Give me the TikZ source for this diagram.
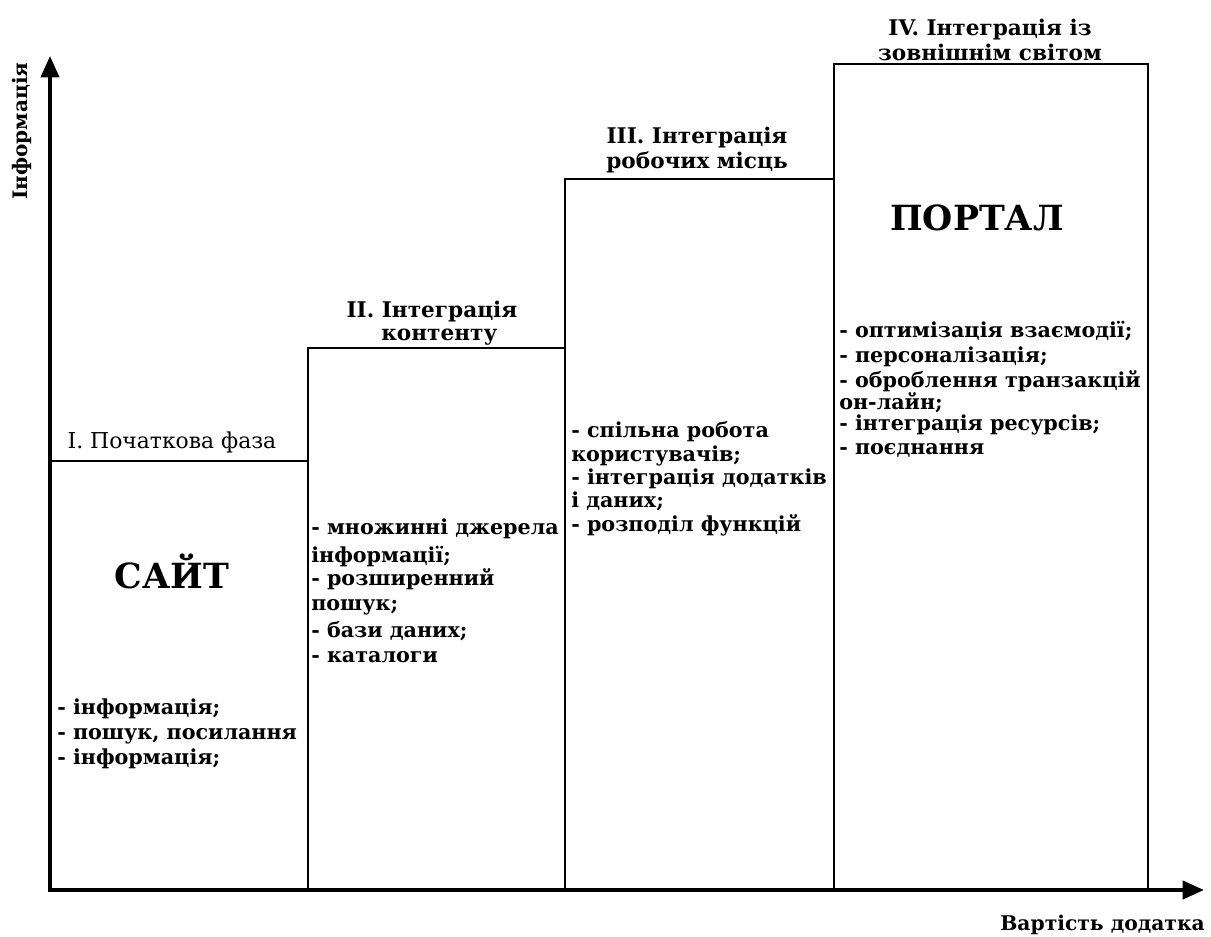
\documentclass[tikz,border=0pt]{standalone}
\usepackage{fontspec}
\setmainfont{DejaVu Serif}
\usetikzlibrary{arrows.meta}
\begin{document}
\begin{tikzpicture}[x=0.75pt,y=-0.75pt,
  stage/.style={draw=black, line width=1.1pt, inner sep=0pt, outer sep=0pt, anchor=south west},
  axis/.style={line width=3pt, {Triangle[length=16pt,width=13.5pt]}-{Triangle[length=16pt,width=13.5pt]}},
  lst/.style={font=\fontsize{15.5}{18}\selectfont\bfseries, align=left, anchor=base west, inner sep=0pt},
  ttl/.style={font=\fontsize{16.2}{18.75}\selectfont\bfseries, align=center, inner sep=0pt},
  big/.style={font=\fontsize{26}{30}\selectfont\bfseries, anchor=base, inner sep=0pt}]
\useasboundingbox (0,0) rectangle (1211,936);
\fill[white] (0,0) rectangle (1211,936);
% stages
\node[stage, minimum width=193.5pt, minimum height=321.75pt] (b1) at (50,890) {};
\node[stage, minimum width=192.75pt, minimum height=406.5pt] (b2) at (308,890) {};
\node[stage, minimum width=201.75pt, minimum height=533.25pt] (b3) at (565,890) {};
\node[stage, minimum width=235.5pt, minimum height=619.5pt] (b4) at (834,890) {};
% axes
\coordinate (O) at (50,890);
\coordinate (ytip) at (50,56);
\coordinate (xtip) at (1204,890);
\draw[axis] (ytip) -- (O) -- (xtip);
\node[font=\fontsize{15}{17}\selectfont\bfseries, rotate=90, inner sep=0pt] (ylab) at (22,131) {Інформація};
\node[font=\fontsize{15.2}{17}\selectfont\bfseries, anchor=base east, inner sep=0pt] (xlab) at (1205,930) {Вартість додатка};
% titles
\node[font=\fontsize{16.4}{18}\selectfont, inner sep=0pt] (t1) at (172,442) {I. Початкова фаза};
\node[ttl, font=\fontsize{16.2}{17.25}\selectfont\bfseries] (t2) at (432,323) {II. Інтеграція\\\hspace*{11pt}контенту};
\node[ttl] (t3) at (697,150.5) {III. Інтеграція\\робочих місць};
\node[ttl] (t4) at (990,39.5) {IV. Інтеграція із\\зовнішнім світом};
% big labels
\node[big] (site) at (172,588) {САЙТ};
\node[big] (portal) at (977,230) {ПОРТАЛ};
% lists (anchored at the baseline of their last line)
\node[lst, font=\fontsize{15.5}{18.75}\selectfont\bfseries] (l1) at (57,764) {- інформація;\\- пошук, посилання\\- інформація;};
\node[lst] (l2) at (311,662) {- множинні джерела\\[3pt]інформації;\\[-0.75pt]- розширенний\\[0.75pt]пошук;\\[2.25pt]- бази даних;\\[0.75pt]- каталоги};
\node[lst, font=\fontsize{15.5}{17.5}\selectfont\bfseries] (l3) at (571,531) {- спільна робота\\користувачів;\\- інтеграція додатків\\і даних;\\- розподіл функцій};
\node[lst] (l4) at (839,454) {- оптимізація взаємодії;\\[0.75pt]- персоналізація;\\[0.75pt]- оброблення транзакцій\\[-1.5pt]он-лайн;\\[-2.25pt]- інтеграція ресурсів;\\- поєднання};
\end{tikzpicture}
\end{document}
